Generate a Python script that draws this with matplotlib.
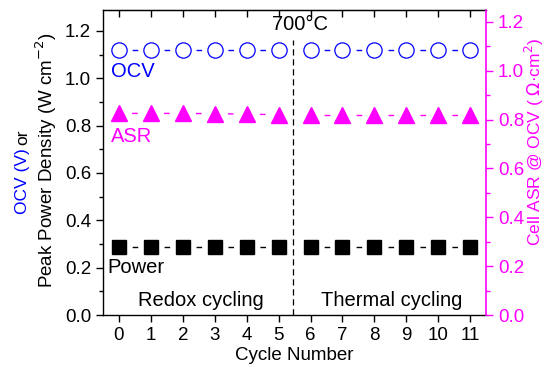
import matplotlib
matplotlib.use("Agg")
import matplotlib.pyplot as plt
from matplotlib.ticker import MultipleLocator, FormatStrFormatter

plt.rcParams['font.family'] = ['Liberation Sans', 'DejaVu Sans']

# cycle data
cycles_redox = [0, 1, 2, 3, 4, 5]
cycles_thermal = [6, 7, 8, 9, 10, 11]
ocv_redox = [1.12, 1.12, 1.12, 1.12, 1.12, 1.12]
ocv_thermal = [1.12, 1.12, 1.12, 1.12, 1.12, 1.12]
asr_redox = [0.825, 0.825, 0.825, 0.824, 0.822, 0.82]
asr_thermal = [0.82, 0.82, 0.82, 0.82, 0.82, 0.82]
power_redox = [0.289, 0.289, 0.289, 0.289, 0.289, 0.289]
power_thermal = [0.289, 0.289, 0.289, 0.289, 0.289, 0.289]
xticks = list(range(12))

blue = '#0000ff'
mag = '#ff00ff'

fig = plt.figure(figsize=(5.45, 3.66), dpi=100)
ax = fig.add_axes([0.189, 0.139, 0.703, 0.835])
ax2 = ax.twinx()

# dash pattern so one short dash sits between neighbouring markers
ax_w_pt = 0.703 * 5.45 * 72
step = ax_w_pt / 12.0
ls = (2, (4, step / 2 - 4))

for xs, ys in [(cycles_redox, ocv_redox), (cycles_thermal, ocv_thermal)]:
    ax.plot(xs, ys, linestyle=ls, color=blue, lw=1, marker='o', ms=11,
            mfc='white', mec=blue, mew=0.9)
for xs, ys in [(cycles_redox, power_redox), (cycles_thermal, power_thermal)]:
    ax.plot(xs, ys, linestyle=ls, color='black', lw=1, marker='s', ms=9.5,
            mfc='black', mec='black')
for xs, ys in [(cycles_redox, asr_redox), (cycles_thermal, asr_thermal)]:
    ax2.plot(xs, ys, linestyle=ls, color=mag, lw=1, marker='^', ms=11.5,
             mfc=mag, mec=mag)

# separator between redox and thermal runs
ax.axvline(5.45, ymin=0, ymax=1.16 / 1.29, color='black', lw=0.9,
           linestyle=(0, (5, 3)))

ax.set_xlim(-0.5, 11.5)
ax.set_ylim(0, 1.29)
ax2.set_ylim(0, 1.25)
ax.set_xticks(xticks)
ax.yaxis.set_major_locator(MultipleLocator(0.2))
ax.yaxis.set_minor_locator(MultipleLocator(0.1))
ax2.yaxis.set_major_locator(MultipleLocator(0.2))
ax2.yaxis.set_minor_locator(MultipleLocator(0.1))
ax.yaxis.set_major_formatter(FormatStrFormatter('%.1f'))
ax2.yaxis.set_major_formatter(FormatStrFormatter('%.1f'))

ax.tick_params(axis='both', which='major', direction='out', length=5,
               width=1, labelsize=13.5)
ax.tick_params(axis='y', which='minor', direction='out', length=3, width=1)
ax2.tick_params(axis='y', which='major', direction='out', length=5, width=1,
                colors=mag, labelsize=13.5)
ax2.tick_params(axis='y', which='minor', direction='out', length=3, width=1,
                colors=mag)
for s in ['left', 'bottom', 'top']:
    ax.spines[s].set_linewidth(1)
ax.spines['right'].set_visible(False)
ax2.spines['right'].set_color(mag)
ax2.spines['right'].set_linewidth(1.2)
for s in ['left', 'top', 'bottom']:
    ax2.spines[s].set_visible(False)

top = ax.secondary_xaxis('top')
top.set_xticks(xticks)
top.tick_params(direction='in', length=5, width=1, labeltop=False)

ax.set_xlabel('Cycle Number', fontsize=13.5, labelpad=2)

ax.text(-0.25, 1.027, 'OCV', color=blue, fontsize=14.5, va='center', ha='left')
ax.text(-0.25, 0.752, 'ASR', color=mag, fontsize=14.5, va='center', ha='left')
ax.text(-0.36, 0.203, 'Power', color='black', fontsize=14.5, va='center', ha='left')
ax.text(2.56, 0.063, 'Redox cycling', fontsize=14.5, va='center', ha='center')
ax.text(8.53, 0.063, 'Thermal cycling', fontsize=14.5, va='center', ha='center')
ax.text(5.66, 1.225, '700°C', fontsize=14.5, va='center', ha='center')

# left label, two lines, first one partly blue
t1 = fig.text(23 / 545, 1 - 214 / 366, 'OCV (V)', color=blue, fontsize=12.5,
              rotation=90, ha='center', va='bottom')
fig.canvas.draw()
bb = t1.get_window_extent()
fig.text(23 / 545, (bb.y1 + 3) / 366, 'or', color='black', fontsize=12.5,
         rotation=90, ha='center', va='bottom')
fig.text(46 / 545, 1 - 160 / 366, 'Peak Power Density (W cm$^{-2}$)',
         fontsize=13.5, rotation=90, ha='center', va='center')
fig.text(534 / 545, 1 - 142 / 366, 'Cell ASR @ OCV ( $\\Omega$·cm$^{2}$)',
         color=mag, fontsize=12.5, rotation=90, ha='center', va='center')

fig.savefig('out.png', dpi=100)
